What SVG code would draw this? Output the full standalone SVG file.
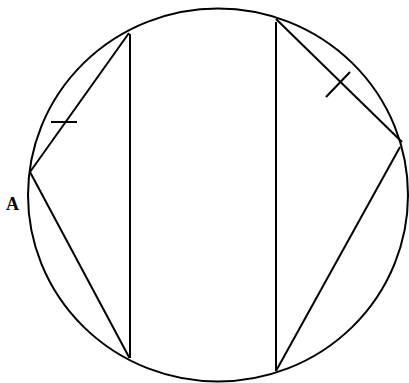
<svg xmlns="http://www.w3.org/2000/svg" width="409" height="383" viewBox="0 0 409 383">
  <style>
    .ln { stroke: #000; stroke-width: 2; fill: none; stroke-linecap: butt; }
    .lbl { font-family: "Liberation Serif", serif; font-weight: bold; font-size: 18px; fill: #000; }
  </style>
  <rect x="0" y="0" width="409" height="383" fill="#fff"/>
  <g id="circle">
    <ellipse class="ln" cx="218" cy="195" rx="190" ry="186.5"/>
  </g>
  <g id="label-A">
    <text class="lbl" x="6" y="210">A</text>
  </g>
  <g id="connectors">
    <line class="ln" x1="30" y1="172" x2="129" y2="33"/>
    <line class="ln" x1="30" y1="172" x2="129.5" y2="358"/>
    <line class="ln" x1="130" y1="34" x2="130" y2="358"/>
    <line class="ln" x1="276" y1="22" x2="276" y2="371"/>
    <line class="ln" x1="276" y1="19" x2="402" y2="142"/>
    <line class="ln" x1="400" y1="147" x2="276" y2="371"/>
    <line class="ln" x1="51" y1="122" x2="77" y2="122"/>
    <line class="ln" x1="326" y1="97" x2="350" y2="72"/>
  </g>
</svg>
